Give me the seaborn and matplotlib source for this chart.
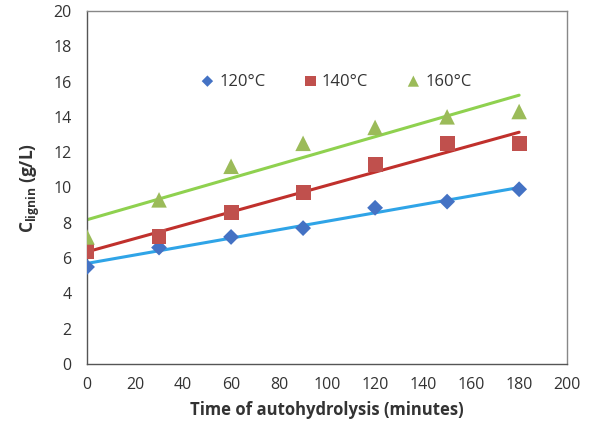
import matplotlib
matplotlib.use("Agg")
import matplotlib.pyplot as plt
import seaborn as sns
import pandas as pd

# ---- data ----
time_min = [0, 30, 60, 90, 120, 150, 180]
lignin_120 = [5.5, 6.6, 7.2, 7.7, 8.85, 9.2, 9.9]
lignin_140 = [6.4, 7.2, 8.6, 9.7, 11.3, 12.5, 12.5]
lignin_160 = [7.2, 9.3, 11.2, 12.5, 13.4, 14.0, 14.3]

labels = ["120°C", "140°C", "160°C"]
markers = ["D", "s", "^"]
marker_sizes = [65, 115, 125]
marker_colors = ["#4472C4", "#C0504D", "#9BBB59"]
line_colors = ["#2FA4E7", "#C0302C", "#8FD14F"]

df = pd.DataFrame({"time": time_min, "120": lignin_120,
                   "140": lignin_140, "160": lignin_160})

sns.set_style("white")
plt.rcParams["font.family"] = ["Open Sans", "DejaVu Sans"]
plt.rcParams["mathtext.fontset"] = "custom"
plt.rcParams["mathtext.rm"] = "Open Sans:bold"
plt.rcParams["mathtext.bf"] = "Open Sans:bold"

fig = plt.figure(figsize=(5.92, 4.34), dpi=100)
ax = fig.add_axes([0.147, 0.161, 0.811, 0.814])

for col, lab, mk, ms, mc, lc in zip(["120", "140", "160"], labels, markers,
                                     marker_sizes, marker_colors, line_colors):
    sns.regplot(data=df, x="time", y=col, ax=ax, ci=None, marker=mk,
                label=lab,
                scatter_kws={"s": ms, "color": mc, "alpha": 1,
                             "edgecolors": "none", "zorder": 3},
                line_kws={"color": lc, "lw": 2.2, "zorder": 2})

ax.set_xlim(0, 200)
ax.set_ylim(0, 20)
ax.set_xticks(range(0, 201, 20))
ax.set_yticks(range(0, 21, 2))
ax.tick_params(axis="both", direction="out", length=5, width=1,
               color="#555555", labelsize=11.5, labelcolor="#333333", pad=4)
ax.tick_params(axis="y", pad=6)
for sp in ax.spines.values():
    sp.set_visible(True)
    sp.set_color("#888888")
    sp.set_linewidth(1)
ax.spines["left"].set_color("#555555")
ax.spines["bottom"].set_color("#555555")

ax.set_xlabel("Time of autohydrolysis (minutes)", fontsize=12,
              fontweight="bold", color="#333333", labelpad=6)
ax.set_ylabel(r"C$_{\mathregular{lignin}}$ (g/L)", fontsize=12.5,
              fontweight="bold", color="#333333", labelpad=8)

ax.legend(loc="center", bbox_to_anchor=(0.517, 0.8), ncol=3, frameon=False,
          fontsize=12, markerscale=0.72, handlelength=1.0, handletextpad=0.2,
          columnspacing=2.2, labelcolor="#333333")

fig.savefig("out.png", dpi=100)
